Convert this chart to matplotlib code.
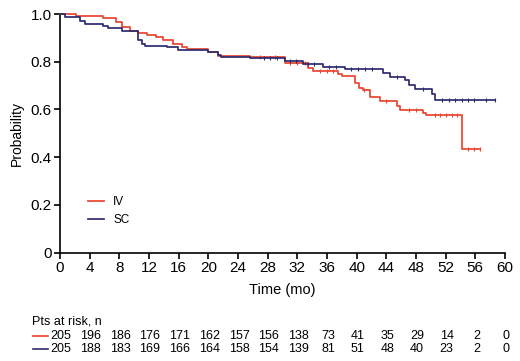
import matplotlib.pyplot as plt
import numpy as np

# Kaplan-Meier step data (time in months, survival probability)
iv_t = [0, 2.2, 5.8, 7.6, 8.3, 9.4, 10.5, 11.7, 13.0, 13.9, 15.3, 16.4, 17.1,
        20.0, 21.3, 25.6, 28.3, 30.3, 33.5, 34.1, 37.5, 38.0, 39.8, 40.3, 40.8,
        41.8, 43.1, 45.4, 45.8, 49.0, 49.4, 54.2, 56.6]
iv_s = [1.0, 0.993, 0.982, 0.968, 0.947, 0.93, 0.919, 0.912, 0.902, 0.891, 0.874,
        0.863, 0.852, 0.842, 0.822, 0.818, 0.818, 0.796, 0.775, 0.762, 0.748, 0.74,
        0.71, 0.69, 0.681, 0.653, 0.636, 0.614, 0.597, 0.584, 0.575, 0.433, 0.433]
sc_t = [0, 0.7, 2.7, 3.4, 5.8, 6.5, 8.3, 10.1, 10.5, 11.0, 11.4, 14.4, 15.9,
        20.0, 21.3, 21.7, 25.6, 30.3, 32.8, 35.5, 38.4, 43.6, 44.5, 46.5, 47.0,
        47.9, 50.1, 50.6, 58.6]
sc_s = [1.0, 0.986, 0.972, 0.958, 0.95, 0.94, 0.93, 0.93, 0.891, 0.874, 0.866,
        0.86, 0.849, 0.842, 0.828, 0.821, 0.814, 0.803, 0.789, 0.779, 0.768, 0.751,
        0.737, 0.723, 0.702, 0.686, 0.665, 0.639, 0.639]

# censoring marks
iv_cens = [27.0, 29.0, 31.0, 32.0, 33.0, 35.0, 36.0, 36.8, 41.0, 44.0, 47.0, 48.0,
           50.5, 51.3, 52.0, 52.8, 53.5, 55.0, 55.8, 56.6]
sc_cens = [27.5, 28.3, 29.2, 31.0, 31.8, 33.5, 34.3, 36.3, 37.2, 39.3, 40.2, 41.1,
           42.0, 45.5, 49.0, 51.5, 52.4, 53.3, 54.2, 55.0, 55.8, 57.5, 58.6]

ticks = np.arange(0, 61, 4)
iv_risk = [205, 196, 186, 176, 171, 162, 157, 156, 138, 73, 41, 35, 29, 14, 2, 0]
sc_risk = [205, 188, 183, 169, 166, 164, 158, 154, 139, 81, 51, 48, 40, 23, 2, 0]

red = '#e8452f'
blue = '#2d2b6e'

plt.rcParams['font.family'] = ['Liberation Sans', 'DejaVu Sans']

fig = plt.figure(figsize=(5.2, 3.61), dpi=100)
ax = fig.add_axes([60 / 520, 1 - 252.5 / 361, 445 / 520, 238.5 / 361])


def surv_at(ts, ss, c):
    idx = np.searchsorted(ts, c, side='right') - 1
    return np.array(ss)[idx]


ax.step(iv_t, iv_s, where='post', color=red, lw=1.25, clip_on=False, label='IV', zorder=3)
ax.step(sc_t, sc_s, where='post', color=blue, lw=1.25, clip_on=False, label='SC', zorder=4)
ax.plot(iv_cens, surv_at(iv_t, iv_s, iv_cens), ls='none', marker='|', ms=3,
        mew=0.8, color=red, clip_on=False, zorder=3)
ax.plot(sc_cens, surv_at(sc_t, sc_s, sc_cens), ls='none', marker='|', ms=3,
        mew=0.8, color=blue, clip_on=False, zorder=4)

ax.set_xlim(0, 60)
ax.set_ylim(0, 1.0)
ax.set_xticks(ticks)
ax.set_yticks([0, 0.2, 0.4, 0.6, 0.8, 1.0])
ax.set_yticklabels(['0', '0.2', '0.4', '0.6', '0.8', '1.0'])
ax.spines['top'].set_visible(False)
ax.spines['right'].set_visible(False)
ax.spines['left'].set_linewidth(1.2)
ax.spines['bottom'].set_linewidth(1.2)
ax.tick_params(direction='out', length=4, width=1.2, labelsize=11, pad=2)
ax.set_xlabel('Time (mo)', fontsize=10.5, labelpad=6)
ax.set_ylabel('Probability', fontsize=10, labelpad=5)

ax.legend(loc='lower left', bbox_to_anchor=(0.04, 0.065), frameon=False,
          fontsize=8.5, handlelength=1.3, handletextpad=0.8, labelspacing=0.5)

# patients at risk table
fig.text(32 / 520, 1 - 321.7 / 361, 'Pts at risk, n', fontsize=9, va='center')
for row, color, yp in [(iv_risk, red, 335.7), (sc_risk, blue, 349.3)]:
    yf = 1 - yp / 361
    fig.add_artist(plt.Line2D([33 / 520, 48 / 520], [yf, yf], color=color, lw=1.2))
    for t, n in zip(ticks, row):
        xf = (61 + t * 445 / 60) / 520
        fig.text(xf, yf, str(n), fontsize=9, ha='center', va='center')

fig.savefig('out.png', dpi=100)
